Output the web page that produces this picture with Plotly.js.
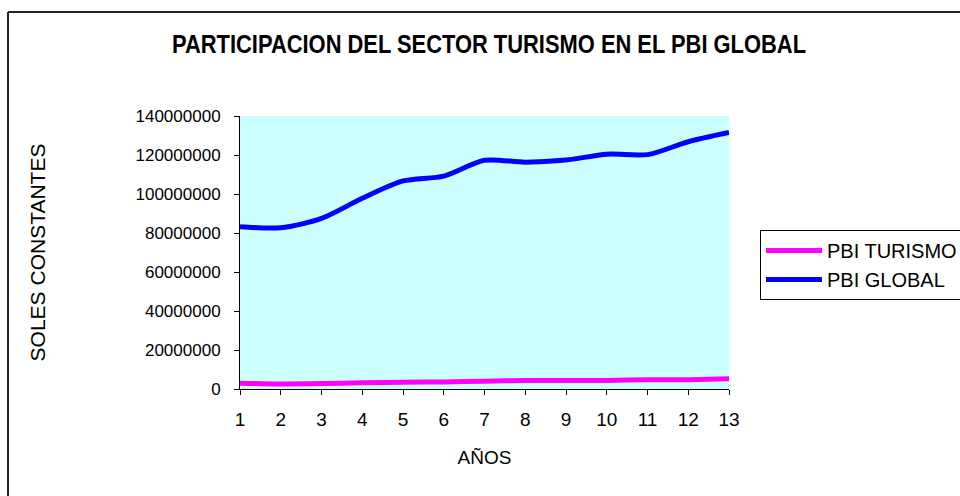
<!DOCTYPE html>
<html>
<head>
<meta charset="utf-8">
<script src="https://cdn.plot.ly/plotly-3.0.1.min.js"></script>
<style>html,body{margin:0;padding:0;background:#fff;}#chart{width:960px;height:496px;}</style>
</head>
<body>
<div id="chart"></div>
<script>
var years = [1,2,3,4,5,6,7,8,9,10,11,12,13];
var pbiTurismo = [3000000,2600000,2800000,3200000,3500000,3600000,4000000,4300000,4300000,4400000,4700000,4800000,5200000];
var pbiGlobal = [83200000,82700000,87500000,97800000,106700000,109200000,117300000,116300000,117400000,120400000,120200000,126800000,131500000];
var seriesNames = ['PBI TURISMO','PBI GLOBAL'];
var seriesColors = ['#FF00FF','#0000FF'];

var traces = [
  {x: years, y: pbiTurismo, name: seriesNames[0], type: 'scatter', mode: 'lines',
   line: {color: seriesColors[0], width: 5, shape: 'spline', smoothing: 0.8}},
  {x: years, y: pbiGlobal, name: seriesNames[1], type: 'scatter', mode: 'lines',
   line: {color: seriesColors[1], width: 5, shape: 'spline', smoothing: 0.8}}
];

var F = 'Arial, "Liberation Sans", sans-serif';
var layout = {
  width: 960, height: 496,
  margin: {l: 240, r: 231, t: 116, b: 107, autoexpand: false},
  paper_bgcolor: '#FFFFFF',
  plot_bgcolor: '#CCFFFF',
  font: {family: F, size: 18, color: '#000'},
  title: {text: '<b>PARTICIPACION DEL SECTOR TURISMO EN EL PBI GLOBAL</b>',
          font: {family: F, size: 25, color: '#000'},
          xref: 'container', yref: 'container', x: 489/960, xanchor: 'center', y: 1 - 44/496, yanchor: 'middle'},
  xaxis: {
    range: [1, 13], tickmode: 'array', tickvals: years, ticktext: years.map(String),
    showgrid: false, zeroline: false, showline: true, linecolor: '#000', linewidth: 1,
    ticks: 'outside', ticklen: 5, tickcolor: '#000', ticklabelstandoff: 8,
    tickfont: {family: F, size: 19, color: '#000'},
    title: {text: 'AÑOS', font: {family: F, size: 19, color: '#000'}, standoff: 21}
  },
  yaxis: {
    range: [0, 140000000], tickmode: 'linear', tick0: 0, dtick: 20000000, tickformat: 'd',
    showgrid: false, zeroline: false, showline: true, linecolor: '#000', linewidth: 1,
    ticks: 'outside', ticklen: 5, tickcolor: '#000', ticklabelstandoff: 10,
    tickfont: {family: F, size: 17, color: '#000'},
    title: {text: 'SOLES CONSTANTES', font: {family: F, size: 21, color: '#000'}, standoff: 84}
  },
  showlegend: true,
  legend: {
    x: (760 - 240) / 489, y: (389 - 230) / 273, xanchor: 'left', yanchor: 'top',
    bgcolor: '#FFFFFF', bordercolor: '#000', borderwidth: 1,
    font: {family: F, size: 20, color: '#000'},
    itemwidth: 56, tracegroupgap: 0, traceorder: 'normal'
  },
  shapes: [
    {type: 'line', xref: 'paper', yref: 'paper', x0: -0.4744, x1: -0.4744, y0: -0.5, y1: 1.381,
     line: {color: '#222', width: 2}},
    {type: 'line', xref: 'paper', yref: 'paper', x0: -0.4744, x1: 1.7, y0: 1.381, y1: 1.381,
     line: {color: '#222', width: 2}}
  ]
};

Plotly.newPlot('chart', traces, layout, {displayModeBar: false, responsive: false}).then(function (gd) {
  var t = gd.querySelector('.gtitle');
  if (t) {
    t.setAttribute('textLength', '634');
    t.setAttribute('lengthAdjust', 'spacingAndGlyphs');
  }
});
</script>
</body>
</html>
